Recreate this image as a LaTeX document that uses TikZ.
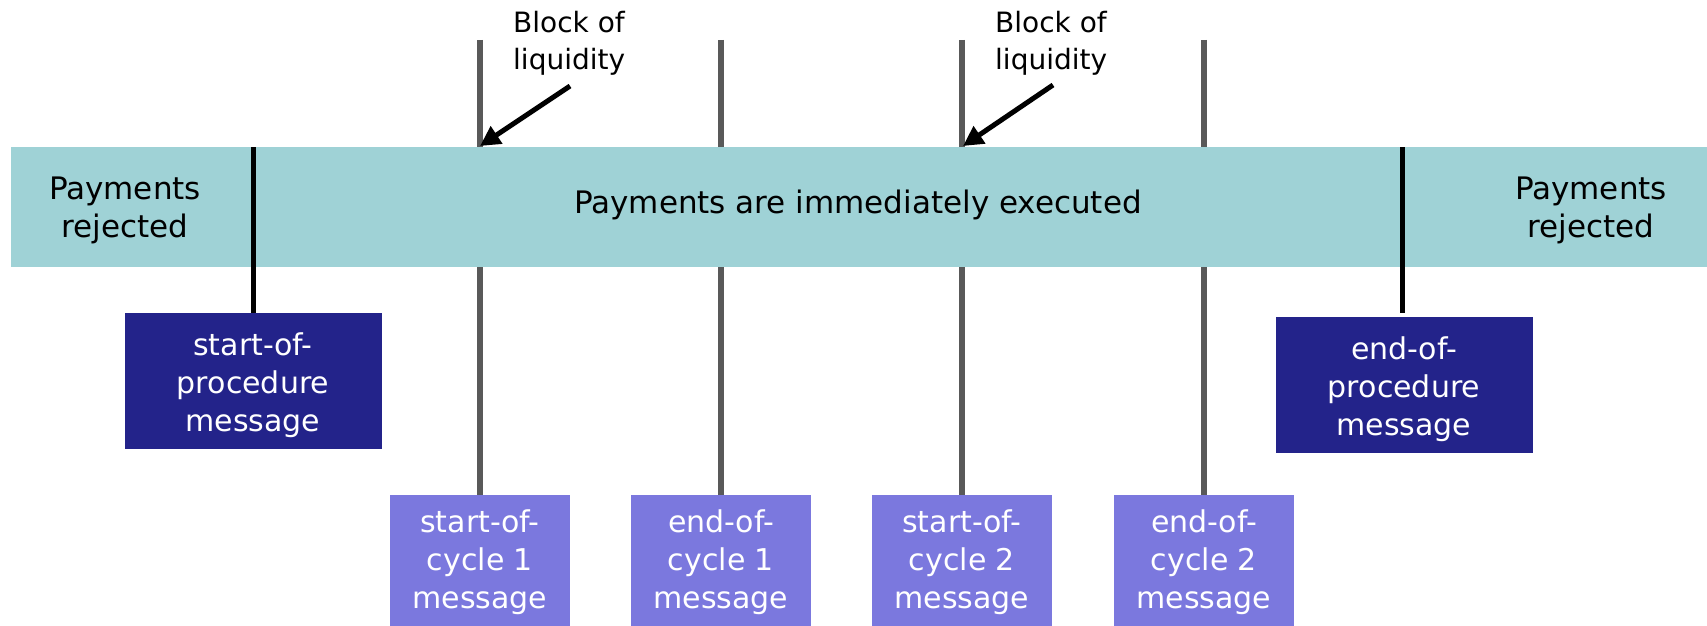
\documentclass[tikz,border=0pt]{standalone}
\usepackage{fontspec}
\setmainfont{DejaVu Sans}
\usetikzlibrary{arrows.meta}
\definecolor{bandcol}{HTML}{9FD2D6}
\definecolor{procbox}{HTML}{23238A}
\definecolor{cyclebox}{HTML}{7B78DE}
\definecolor{tickgray}{HTML}{595959}
\tikzset{
  x=1pt, y=-1pt,
  bandlabel/.style={align=center, inner sep=0pt, font=\fontsize{31}{38}\selectfont},
  blocklabel/.style={align=left, anchor=west, inner sep=0pt, font=\fontsize{28}{37}\selectfont},
  procmsg/.style={fill=procbox, minimum width=257pt, minimum height=136pt, inner sep=0pt},
  cyclemsg/.style={fill=cyclebox, minimum width=180pt, minimum height=131pt, inner sep=0pt},
  msgtext/.style={text=white, align=center, inner sep=0pt, font=\fontsize{30}{38}\selectfont},
  cycletick/.style={draw=tickgray, line width=6pt},
  proctick/.style={draw=black, line width=5pt},
  pointer/.style={draw=black, line width=5pt, -{Triangle[length=20pt,width=20pt]}},
}
\begin{document}
\begin{tikzpicture}
\useasboundingbox (0,0) rectangle (1707,626);

% message boxes
\node[procmsg] (sp) at (253,381) {};
\node[procmsg] (ep) at (1404,385) {};
\node[cyclemsg] (c1) at (480,560.5) {};
\node[cyclemsg] (c2) at (721,560.5) {};
\node[cyclemsg] (c3) at (962,560.5) {};
\node[cyclemsg] (c4) at (1204,560.5) {};
\node[msgtext] (spt) at ([yshift=-4pt]sp.center) {start-of-\\procedure\\message};
\node[msgtext] (ept) at ([yshift=-4pt]ep.center) {end-of-\\procedure\\message};
\node[msgtext] (c1t) at ([yshift=-2pt]c1.center) {start-of-\\cycle 1\\message};
\node[msgtext] (c2t) at ([yshift=-2pt]c2.center) {end-of-\\cycle 1\\message};
\node[msgtext] (c3t) at ([yshift=-2pt]c3.center) {start-of-\\cycle 2\\message};
\node[msgtext] (c4t) at ([yshift=-2pt]c4.center) {end-of-\\cycle 2\\message};

% cycle ticks run behind the band
\coordinate (t1) at (480,40);
\coordinate (t2) at (721,40);
\coordinate (t3) at (962,40);
\coordinate (t4) at (1204,40);
\draw[cycletick] (t1) -- (c1.north);
\draw[cycletick] (t2) -- (c2.north);
\draw[cycletick] (t3) -- (c3.north);
\draw[cycletick] (t4) -- (c4.north);

% the time band
\node[fill=bandcol, minimum width=1696pt, minimum height=120pt, inner sep=0pt,
      anchor=north west] (band) at (11,147) {};

% procedure boundaries drawn over the band
\coordinate (pL) at (253,147);
\coordinate (pR) at (1402,147);
\coordinate (pRend) at (1402,313);
\draw[proctick] (pL) -- (sp.north);
\draw[proctick] (pR) -- (pRend);

% band labels
\node[bandlabel] (rejL) at (125,210) {Payments\\rejected};
\node[bandlabel] (exec) at (858,205) {Payments are immediately executed};
\node[bandlabel] (rejR) at (1591,210) {Payments\\rejected};

% liquidity block annotations
\node[blocklabel] (b1) at (513,43) {Block of\\liquidity};
\node[blocklabel] (b2) at (995,43) {Block of\\liquidity};
\coordinate (a1s) at (570,86);
\coordinate (a1e) at (480,146);
\coordinate (a2s) at (1053,85);
\coordinate (a2e) at (963,146);
\draw[pointer] (a1s) -- (a1e);
\draw[pointer] (a2s) -- (a2e);
\end{tikzpicture}
\end{document}
